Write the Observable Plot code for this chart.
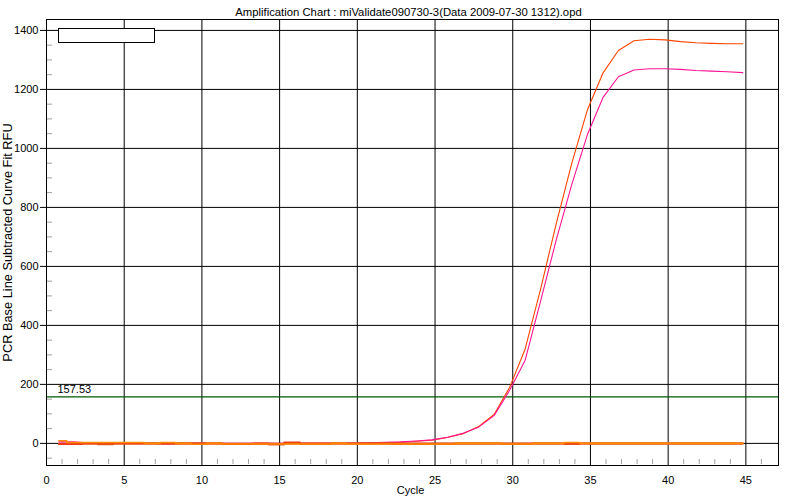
<!DOCTYPE html>
<html>
<head>
<meta charset="utf-8">
<script src="https://cdn.jsdelivr.net/npm/d3@7"></script>
<script src="https://cdn.jsdelivr.net/npm/@observablehq/plot@0.6"></script>
<style>
  html, body { margin: 0; padding: 0; background: #fff; }
  #wrap { position: relative; width: 800px; height: 500px; }
  #legend { position: absolute; left: 58px; top: 28px; width: 97px; height: 15px;
            box-sizing: border-box; border: 1px solid #000; background: #fff; }
</style>
</head>
<body>
<div id="wrap"><div id="legend"></div></div>
<script>
// ---- data ----
const titleText = "Amplification Chart : miValidate090730-3(Data 2009-07-30 1312).opd";
const xLabel = "Cycle";
const yLabel = "PCR Base Line Subtracted Curve Fit RFU";
const threshold = 157.53;
const cycles = d3.range(1, 46);
const xTicks = [0, 5, 10, 15, 20, 25, 30, 35, 40, 45];
const yTicks = [0, 200, 400, 600, 800, 1000, 1200, 1400];
const xMinor = d3.range(1, 47).filter(c => c % 5 !== 0);
const yMinor = d3.range(-50, 1401, 50).filter(v => v % 200 !== 0);

const orangeCurve = [0,0,0,0,0,0,0,0,0,0, 0,0,0,0,0,0,0,0,0,0,
  1,2,4,7,11,20,33,57,98,190, 320,525,745,950,1130,
  1255,1332,1365,1370,1368, 1362,1358,1356,1355,1355];
const pinkCurve = [5,5,0,0,0,0,0,-3,0,0, 0,0,0,0,0,0,0,0,0,0,
  2,4,5,8,12,21,34,55,94,180, 282,484,690,878,1046,
  1172,1243,1266,1270,1270, 1268,1264,1262,1260,1257];
const bgBrown = [-2,-2,0,-3,0,0,0,0,0,0, 0,-2,-2,-2,-3,0,-2,-2,0,0,
  0,0,-2,-2,-2,-2,0,0,0,-2, -2,0,0,-2,0, 0,0,0,0,0, 0,0,0,0,0];
const bgRed = [-2,-2,0,0,0,0,0,0,0,0, 0,-2,-2,0,-3,3,0,0,0,0,
  0,0,0,0,0,0,0,0,0,0, 0,0,0,0,0, 0,0,0,0,0, 0,0,0,0,0];
const bgOrange = [9,3,3,3,3,3,0,3,0,-3, 0,-2,-2,-2,-2,-2,-2,-2,0,-2,
  -2,-2,-2,-2,-2,-2,0,0,0,-2, -2,0,0,3,0, 0,0,0,0,0, 0,0,0,0,0];

const seriesDefs = [
  {name: "A", values: orangeCurve, color: "#ff4500", width: 1.1, curve: "linear"},
  {name: "B", values: pinkCurve, color: "#ff1493", width: 1.1, curve: "linear"},
  {name: "C", values: bgBrown, color: "#d2691e", width: 2, curve: "step"},
  {name: "D", values: bgRed, color: "#f03c14", width: 2, curve: "step"},
  {name: "E", values: bgOrange, color: "#ff8c00", width: 1.6, curve: "step"}
];

const xShift = -0.2; // readings are plotted slightly before the cycle number
const lineMarks = seriesDefs.map(s =>
  Plot.line(cycles.map((c, i) => ({cycle: c, value: s.values[i]})), {
    x: d => d.cycle + xShift, y: "value",
    stroke: s.color, strokeWidth: s.width, curve: s.curve
  })
);

const chart = Plot.plot({
  width: 800, height: 500,
  marginLeft: 46, marginRight: 22, marginTop: 19, marginBottom: 35,
  style: {fontFamily: "'Liberation Sans', Arial, sans-serif", fontSize: "11px", background: "#fff", color: "#000"},
  x: {domain: [0, 47.1]},
  y: {domain: [-75, 1437]},
  marks: [
    Plot.gridX(xTicks, {stroke: "#000", strokeOpacity: 1}),
    Plot.gridY(yTicks, {stroke: "#000", strokeOpacity: 1}),
    Plot.ruleX(xMinor, {x: d => d, stroke: "#a0a0a0", insetTop: 440, insetBottom: 1}),
    Plot.ruleY(yMinor, {y: d => d, stroke: "#a0a0a0", insetLeft: 1, insetRight: 726}),
    Plot.ruleY([threshold], {stroke: "#005a00", strokeWidth: 1.2}),
    Plot.text([threshold], {y: d => d, text: d => d.toFixed(2), frameAnchor: "left", textAnchor: "start", dx: 11, dy: -7, fontSize: 11}),
    ...lineMarks,
    Plot.frame({stroke: "#000"}),
    Plot.axisX(xTicks, {tickSize: 0, tickPadding: 11, label: null, fontSize: 11, tickFormat: d => String(d)}),
    Plot.axisY(yTicks, {tickSize: 6, tickPadding: 2, label: null, stroke: "#000", fontSize: 11, tickFormat: d => String(d)}),
    Plot.text([titleText], {frameAnchor: "top", dy: -12, fontSize: 11.3, dx: -4}),
    Plot.text([xLabel], {frameAnchor: "bottom", dy: 28, fontSize: 11, dx: -2}),
    Plot.text([yLabel], {frameAnchor: "left", textAnchor: "middle", dx: -39, rotate: -90, fontSize: 12.8})
  ]
});
document.getElementById("wrap").prepend(chart);
</script>
</body>
</html>
